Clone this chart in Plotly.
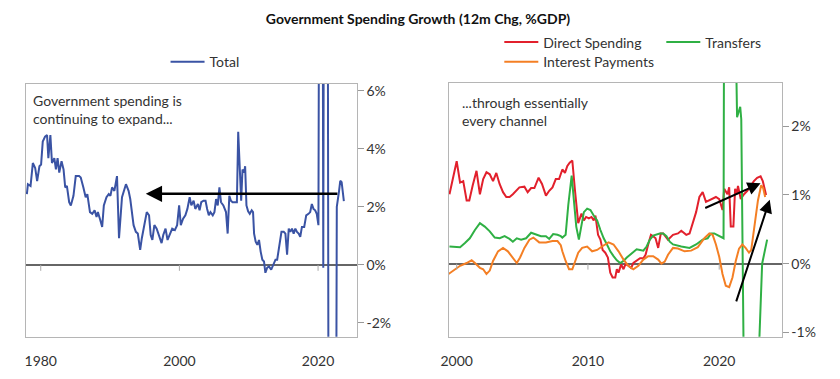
import plotly.graph_objects as go

# ---------------- data ----------------
total_x = [1978.0, 1978.15, 1978.53, 1978.86, 1979.2, 1979.48, 1979.81, 1980.05, 1980.29, 1980.62,
           1980.91, 1981.1, 1981.39, 1981.62, 1981.96, 1982.19, 1982.43, 1982.67, 1983.0, 1983.29,
           1983.53, 1983.77, 1984.1, 1984.34, 1984.72, 1985.05, 1985.53, 1985.77, 1986.15, 1986.48,
           1986.72, 1987.1, 1987.43, 1987.77, 1988.05, 1988.24, 1988.53, 1988.86, 1989.1, 1989.48,
           1989.81, 1990.05, 1990.29, 1990.62, 1991.0, 1991.29, 1991.72, 1991.96, 1992.29, 1992.67,
           1992.91, 1993.39, 1993.72, 1994.0, 1994.34, 1994.58, 1994.96, 1995.29, 1995.62, 1995.86,
           1996.1, 1996.39, 1996.72, 1997.1, 1997.43, 1997.67, 1998.0, 1998.29, 1998.62, 1998.96,
           1999.34, 1999.67, 1999.96, 2000.2, 2000.53, 2000.86, 2001.15, 2001.48, 2001.72, 2002.05,
           2002.29, 2002.67, 2002.91, 2003.15, 2003.48, 2003.77, 2004.0, 2004.24, 2004.48, 2004.81,
           2005.05, 2005.29, 2005.53, 2005.77, 2006.0, 2006.34, 2006.72, 2006.96, 2007.2, 2007.43,
           2007.67, 2008.05, 2008.29, 2008.48, 2008.72, 2008.91, 2009.1, 2009.34, 2009.48, 2009.67,
           2009.91, 2010.15, 2010.43, 2010.62, 2010.77, 2011.0, 2011.24, 2011.48, 2011.72, 2011.96,
           2012.2, 2012.4, 2012.65, 2012.91, 2013.24, 2013.53, 2013.86, 2014.1, 2014.43, 2014.72,
           2015.05, 2015.29, 2015.53, 2015.77, 2016.0, 2016.24, 2016.48, 2016.72, 2016.96, 2017.2,
           2017.43, 2017.67, 2018.0, 2018.29, 2018.62, 2018.86, 2019.1, 2019.34, 2019.58, 2019.81,
           2020.05, 2020.3, 2020.55, 2020.75, 2020.95, 2021.3, 2021.6, 2022.45, 2022.7, 2023.0,
           2023.2, 2023.4, 2023.72]
total_y = [2.44, 2.78, 2.72, 3.51, 3.34, 2.89, 3.40, 3.46, 4.25, 4.42,
           4.47, 3.68, 4.47, 3.51, 3.68, 3.29, 3.68, 3.18, 3.57, 3.29,
           2.67, 2.72, 2.16, 2.05, 2.38, 3.06, 3.06, 3.01, 2.67, 2.33,
           2.44, 1.82, 1.76, 1.88, 1.65, 1.82, 1.59, 1.31, 2.05, 2.33,
           2.44, 2.38, 2.67, 2.55, 3.06, 0.92, 2.33, 2.55, 2.78, 2.55,
           2.27, 1.37, 1.14, 1.08, 0.52, 0.92, 1.48, 1.82, 1.71, 1.03,
           0.86, 1.37, 1.25, 0.97, 0.75, 1.03, 1.25, 0.86, 1.03, 1.25,
           1.20, 1.37, 2.05, 1.37, 1.59, 1.71, 1.93, 2.33, 2.05, 2.21,
           1.93, 2.10, 1.88, 2.16, 2.21, 2.21, 1.93, 1.71, 1.82, 1.71,
           1.82, 2.27, 2.05, 2.67, 2.16, 2.05, 1.82, 1.08, 2.38, 2.21,
           2.16, 2.16, 2.16, 4.59, 3.34, 2.21, 3.29, 3.18, 3.40, 2.05,
           1.85, 1.76, 1.88, 1.82, 1.08, 0.80, 0.69, 0.86, 0.46, 0.18,
           0.12, -0.27, -0.10, -0.05, -0.16, 0.01, 0.18, 0.18, 0.69, 1.14,
           1.14, 1.08, 0.35, 1.25, 1.14, 1.25, 1.08, 1.25, 1.14, 1.08,
           0.97, 1.31, 1.31, 1.71, 1.76, 1.82, 2.10, 1.93, 1.88, 1.76,
           1.37, 25.0, 25.0, -0.10, 25.0, 25.0, -20.0, -20.0, 2.00, 2.50,
           2.90, 2.85, 2.20]

direct_x = [1999.45, 1999.7, 2000.0, 2000.26, 2000.5, 2000.76, 2000.96, 2001.21, 2001.51, 2001.77,
            2002.02, 2002.27, 2002.52, 2002.77, 2003.02, 2003.27, 2003.53, 2003.78, 2004.03, 2004.28,
            2004.53, 2004.78, 2005.16, 2005.41, 2005.67, 2005.92, 2006.24, 2006.5, 2006.8, 2007.05,
            2007.3, 2007.55, 2007.8, 2008.05, 2008.25, 2008.43, 2008.61, 2008.81, 2009.0, 2009.26,
            2009.51, 2009.69, 2009.86, 2010.07, 2010.27, 2010.44, 2010.57, 2010.77, 2010.95, 2011.12,
            2011.32, 2011.52, 2011.7, 2011.88, 2012.08, 2012.2, 2012.33, 2012.53, 2012.71, 2012.88,
            2013.08, 2013.29, 2013.46, 2013.71, 2013.97, 2014.22, 2014.39, 2014.59, 2014.8, 2014.97,
            2015.15, 2015.35, 2015.55, 2015.73, 2015.9, 2016.1, 2016.48, 2016.86, 2017.11, 2017.49,
            2017.74, 2017.99, 2018.24, 2018.49, 2018.74, 2018.99, 2019.25, 2019.5, 2019.75, 2020.0,
            2020.25, 2020.38, 2020.63, 2020.76, 2020.88, 2021.08, 2021.21, 2021.33, 2021.43, 2021.64,
            2021.89, 2022.14, 2022.39, 2022.64, 2022.89, 2023.15, 2023.32, 2023.45, 2023.57]
direct_y = [1.01, 1.23, 1.49, 1.18, 1.20, 0.92, 0.92, 1.13, 1.35, 1.01,
            1.23, 1.33, 1.30, 1.20, 1.32, 1.16, 1.04, 0.97, 0.97, 1.01,
            1.06, 1.11, 1.12, 1.04, 1.10, 1.10, 1.25, 1.16, 0.99, 1.06,
            1.11, 1.23, 1.23, 1.37, 1.32, 1.42, 1.47, 1.50, 1.09, 0.59,
            0.73, 0.63, 0.68, 0.66, 0.68, 0.63, 0.70, 0.42, 0.35, 0.20,
            0.16, 0.09, -0.13, -0.20, -0.20, -0.08, -0.13, -0.01, -0.08, 0.00,
            -0.03, -0.06, 0.01, 0.04, 0.08, 0.08, 0.13, 0.28, 0.42, 0.40,
            0.37, 0.23, 0.44, 0.44, 0.40, 0.35, 0.42, 0.44, 0.48, 0.42,
            0.44, 0.61, 0.75, 0.97, 1.04, 0.90, 0.92, 0.94, 0.97, 0.94,
            0.78, 1.09, 1.01, 1.11, 0.54, 0.54, 1.09, 1.01, 1.13, 0.94,
            1.01, 1.06, 1.13, 1.20, 1.25, 1.27, 1.20, 1.09, 1.00]

transfers_x = [1999.45, 2000.26, 2000.63, 2001.0, 2001.39, 2001.77, 2002.14, 2002.52, 2002.9, 2003.28,
               2003.65, 2004.03, 2004.28, 2004.58, 2004.91, 2005.29, 2005.67, 2006.04, 2006.42, 2006.8,
               2007.05, 2007.35, 2007.68, 2007.93, 2008.05, 2008.3, 2008.5, 2008.76, 2008.93, 2009.11,
               2009.31, 2009.51, 2009.69, 2009.94, 2010.19, 2010.44, 2010.7, 2010.95, 2011.2, 2011.45,
               2011.7, 2011.95, 2012.2, 2012.46, 2012.71, 2012.96, 2013.21, 2013.46, 2013.71, 2013.97,
               2014.22, 2014.47, 2014.72, 2014.97, 2015.22, 2015.47, 2015.73, 2015.98, 2016.23, 2016.48,
               2017.11, 2017.74, 2018.24, 2018.74, 2019.12, 2019.37, 2019.62, 2020.0, 2020.33, 2020.42,
               2020.8, 2021.2, 2021.27, 2021.36, 2021.5, 2021.6, 2021.68, 2021.95, 2022.5, 2023.0,
               2023.27, 2023.52, 2023.65]
transfers_y = [0.25, 0.24, 0.30, 0.37, 0.49, 0.59, 0.54, 0.47, 0.38, 0.37,
               0.40, 0.36, 0.32, 0.37, 0.35, 0.37, 0.45, 0.42, 0.40, 0.40,
               0.36, 0.43, 0.42, 0.40, 0.38, 0.42, 0.85, 1.28, 0.85, 0.54,
               0.35, 0.56, 0.75, 0.80, 0.78, 0.70, 0.63, 0.49, 0.37, 0.28,
               0.18, 0.11, 0.05, 0.01, 0.04, 0.09, 0.13, 0.18, 0.21, 0.20,
               0.19, 0.25, 0.35, 0.41, 0.43, 0.44, 0.44, 0.40, 0.32, 0.28,
               0.25, 0.23, 0.28, 0.35, 0.37, 0.44, 0.44, 0.40, 0.37, 8.0,
               7.0, 5.0, 3.2, 2.13, 2.22, 2.28, 2.10, -3.0, -3.5, -1.4,
               0.00, 0.23, 0.35]

interest_x = [1999.38, 1999.75, 2000.26, 2000.76, 2001.14, 2001.39, 2001.77, 2002.02, 2002.27, 2002.52,
              2002.77, 2003.15, 2003.53, 2003.9, 2004.28, 2004.58, 2004.83, 2005.16, 2005.54, 2005.84,
              2006.29, 2006.8, 2007.3, 2007.68, 2007.93, 2008.05, 2008.3, 2008.56, 2008.81, 2009.0,
              2009.26, 2009.56, 2009.94, 2010.32, 2010.7, 2011.07, 2011.57, 2011.95, 2012.33, 2012.71,
              2013.08, 2013.46, 2013.84, 2014.22, 2014.59, 2014.97, 2015.35, 2015.6, 2015.85, 2016.1,
              2016.48, 2016.86, 2017.36, 2017.86, 2018.37, 2018.87, 2019.25, 2019.5, 2019.75, 2020.0,
              2020.25, 2020.5, 2020.76, 2021.01, 2021.26, 2021.51, 2021.76, 2022.01, 2022.27, 2022.44,
              2022.7, 2022.95, 2023.2, 2023.35, 2023.5]
interest_y = [-0.15, -0.10, -0.03, 0.01, 0.05, 0.01, -0.06, -0.08, -0.15, -0.10,
              0.04, 0.18, 0.23, 0.18, 0.09, 0.01, 0.09, 0.23, 0.35, 0.38,
              0.31, 0.31, 0.33, 0.33, 0.27, 0.18, 0.04, -0.08, -0.08, 0.01,
              0.16, 0.23, 0.25, 0.18, 0.20, 0.25, 0.31, 0.28, 0.18, 0.06,
              -0.03, -0.08, -0.03, 0.06, 0.11, 0.11, 0.06, 0.00, 0.03, 0.13,
              0.23, 0.22, 0.18, 0.19, 0.24, 0.37, 0.44, 0.42, 0.28, 0.10,
              -0.15, -0.32, -0.34, -0.20, 0.04, 0.22, 0.28, 0.23, 0.16, 0.20,
              0.61, 0.92, 1.14, 1.10, 0.97]

left_ticks = [-2, 0, 2, 4, 6]
left_ticktext = ["-2%", "0%", "2%", "4%", "6%"]
right_ticks = [-1, 0, 1, 2]
right_ticktext = ["-1%", "0%", "1%", "2%"]
left_years = [1980, 2000, 2020]
right_years = [2000, 2010, 2020]

# arrows (tail -> head) in data units
left_arrow = dict(tail=(2023.0, 2.45), head=(1995.15, 2.45))
right_arrows = [dict(tail=(2018.82, 0.80), head=(2023.15, 1.17)),
                dict(tail=(2021.26, -0.57), head=(2023.85, 0.93))]

# ---------------- figure ----------------
# the page body has an 8px default margin; lay out in window pixels and shift
OFF = 8
W, H = 840 - OFF, 379 - OFF


def fx(p):
    return (p - OFF) / W


def fy(p):
    return 1 - (p - OFF) / H


FONT = "Lato"
BLUE, RED, GREEN, ORANGE = "#3a53a4", "#e2202c", "#2fb044", "#f47f24"
FRAME = "#b5b5b5"
ZERO = "#666666"
TXT = "#333333"

L_RANGE_Y = [-2.47, 6.24]
R_RANGE_Y = [-1.06, 2.63]

fig = go.Figure()
fig.add_trace(go.Scatter(x=total_x, y=total_y, mode="lines", name="Total",
                         line=dict(color=BLUE, width=2), xaxis="x", yaxis="y", legend="legend"))
fig.add_trace(go.Scatter(x=direct_x, y=direct_y, mode="lines", name="Direct Spending",
                         line=dict(color=RED, width=2), xaxis="x2", yaxis="y2", legend="legend2"))
fig.add_trace(go.Scatter(x=transfers_x, y=transfers_y, mode="lines", name="Transfers",
                         line=dict(color=GREEN, width=2), xaxis="x2", yaxis="y2", legend="legend2"))
fig.add_trace(go.Scatter(x=interest_x, y=interest_y, mode="lines", name="Interest Payments",
                         line=dict(color=ORANGE, width=2), xaxis="x2", yaxis="y2", legend="legend3"))

tickfont = dict(family=FONT, size=14, color=TXT)
common_x = dict(showgrid=False, zeroline=False, showline=True, mirror=True, linecolor=FRAME,
                linewidth=1, ticks="", tickfont=tickfont, ticklabelstandoff=12)
common_y = dict(showgrid=False, side="right", showline=True, mirror=True, linecolor=FRAME,
                linewidth=1, ticks="outside", ticklen=6, tickcolor="#999999", tickfont=tickfont,
                zeroline=True, zerolinecolor=ZERO, zerolinewidth=1.6)
legfont = dict(family=FONT, size=14, color=TXT)

fig.update_layout(
    width=W, height=H, margin=dict(l=0, r=0, t=0, b=0),
    paper_bgcolor="white", plot_bgcolor="white",
    font=dict(family=FONT, size=14, color=TXT),
    xaxis=dict(domain=[fx(18), fx(352)], range=[1977.86, 2025.57], tickvals=left_years,
               anchor="y", **common_x),
    yaxis=dict(domain=[fy(340), fy(83)], range=L_RANGE_Y, tickvals=left_ticks,
               ticktext=left_ticktext, anchor="x", **common_y),
    xaxis2=dict(domain=[fx(445), fx(781)], range=[1999.4, 2024.75], tickvals=right_years,
                anchor="y2", **common_x),
    yaxis2=dict(domain=[fy(340), fy(82)], range=R_RANGE_Y, tickvals=right_ticks,
                ticktext=right_ticktext, anchor="x2", **common_y),
    title=dict(text="<b>Government Spending Growth (12m Chg, %GDP)</b>", x=fx(418), xanchor="center",
               y=fy(19), yanchor="middle", font=dict(family=FONT, size=14, color="#111111")),
    legend=dict(x=fx(159), y=fy(61), xanchor="left", yanchor="middle", orientation="h",
                bgcolor="rgba(0,0,0,0)", font=legfont, itemwidth=34),
    legend2=dict(x=fx(496), y=fy(41), xanchor="left", yanchor="middle", orientation="h",
                 bgcolor="rgba(0,0,0,0)", font=legfont, traceorder="normal", entrywidth=113,
                 itemwidth=34),
    legend3=dict(x=fx(496), y=fy(61), xanchor="left", yanchor="middle", orientation="h",
                 bgcolor="rgba(0,0,0,0)", font=legfont, itemwidth=34),
    showlegend=True,
)

# small x tick marks sitting on the zero line
shapes = []
ltick = (L_RANGE_Y[1] - L_RANGE_Y[0]) * 6 / 257
rtick = (R_RANGE_Y[1] - R_RANGE_Y[0]) * 6 / 258
for yr in left_years:
    shapes.append(dict(type="line", xref="x", yref="y", x0=yr, x1=yr, y0=0, y1=-ltick,
                       line=dict(color="#aaaaaa", width=1)))
for yr in right_years:
    shapes.append(dict(type="line", xref="x2", yref="y2", x0=yr, x1=yr, y0=0, y1=-rtick,
                       line=dict(color="#aaaaaa", width=1)))
fig.update_layout(shapes=shapes)

annotations = []
annotations.append(dict(xref="paper", yref="paper", x=fx(23), y=fy(89), xanchor="left",
                        yanchor="top", align="left", showarrow=False,
                        text="Government spending is<br>continuing to expand...",
                        font=dict(family=FONT, size=14, color=TXT)))
annotations.append(dict(xref="paper", yref="paper", x=fx(456), y=fy(91), xanchor="left",
                        yanchor="top", align="left", showarrow=False,
                        text="...through essentially<br>every channel",
                        font=dict(family=FONT, size=14, color=TXT)))
annotations.append(dict(xref="x", yref="y", axref="x", ayref="y",
                        x=left_arrow["head"][0], y=left_arrow["head"][1],
                        ax=left_arrow["tail"][0], ay=left_arrow["tail"][1],
                        text="", showarrow=True, arrowhead=2, arrowsize=1.3, arrowwidth=2.5,
                        arrowcolor="black", standoff=0, startstandoff=0))
for a in right_arrows:
    annotations.append(dict(xref="x2", yref="y2", axref="x2", ayref="y2",
                            x=a["head"][0], y=a["head"][1], ax=a["tail"][0], ay=a["tail"][1],
                            text="", showarrow=True, arrowhead=2, arrowsize=1.3, arrowwidth=2,
                            arrowcolor="black", standoff=0, startstandoff=0))
fig.update_layout(annotations=annotations)

fig.write_html("out.html")
